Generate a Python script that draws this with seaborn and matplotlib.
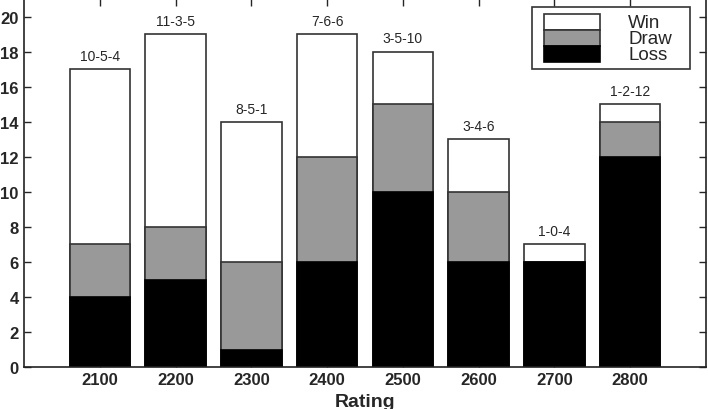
import pandas as pd
import seaborn as sns
import matplotlib.pyplot as plt
from matplotlib.patches import Rectangle

ratings = ['2100', '2200', '2300', '2400', '2500', '2600', '2700', '2800']
wins = [10, 11, 8, 7, 3, 3, 1, 1]
draws = [3, 3, 5, 6, 5, 4, 0, 2]
losses = [4, 5, 1, 6, 10, 6, 6, 12]
labels = ['10-5-4', '11-3-5', '8-5-1', '7-6-6', '3-5-10', '3-4-6', '1-0-4', '1-2-12']

df = pd.DataFrame({'Rating': ratings, 'Win': wins, 'Draw': draws, 'Loss': losses})
df['LossDraw'] = df['Loss'] + df['Draw']
df['Total'] = df['LossDraw'] + df['Win']

sns.set_style('ticks')
plt.rcParams['font.family'] = ['Liberation Sans', 'DejaVu Sans']

fig = plt.figure(figsize=(7.08, 4.10), dpi=100)
ax = fig.add_axes([0.034, 0.102, 0.963, 0.898])

edge = '#333333'
gray = '#999999'
# stacked bars: draw totals first, then cover with lower parts
sns.barplot(x='Rating', y='Total', data=df, color='white', edgecolor=edge,
            linewidth=1.2, width=0.8, saturation=1, ax=ax)
sns.barplot(x='Rating', y='LossDraw', data=df, color=gray, edgecolor=edge,
            linewidth=1.2, width=0.8, saturation=1, ax=ax)
sns.barplot(x='Rating', y='Loss', data=df, color='black', edgecolor='black',
            linewidth=1.2, width=0.8, saturation=1, ax=ax)

# W-D-L labels above bars
for i, (tot, lab) in enumerate(zip(df['Total'], labels)):
    ax.text(i, tot + 0.35, lab, ha='center', va='bottom', fontsize=10)

ax.set_xlim(-1, 8)
ax.set_ylim(0, 21)
ax.set_yticks(range(0, 21, 2))
ax.set_xlabel('Rating', fontsize=14, fontweight='bold', labelpad=4)
ax.set_ylabel('')

ax.tick_params(direction='in', top=True, right=True, length=5, width=1)
for lab in ax.get_xticklabels() + ax.get_yticklabels():
    lab.set_fontweight('bold')
    lab.set_fontsize(12)
ax.tick_params(axis='y', pad=4)

for s in ax.spines.values():
    s.set_linewidth(1.2)
    s.set_color('#222222')

# legend with touching swatches, drawn in axes coordinates
ax.add_patch(Rectangle((0.745, 0.810), 0.232, 0.168, transform=ax.transAxes,
                       facecolor='white', edgecolor=edge, linewidth=1.2, zorder=5))
legend_items = [('Win', 'white', edge), ('Draw', gray, edge), ('Loss', 'black', 'black')]
sw_h = 0.043
for k, (name, fc, ec) in enumerate(legend_items):
    y0 = 0.958 - (k + 1) * sw_h
    ax.add_patch(Rectangle((0.763, y0), 0.081, sw_h, transform=ax.transAxes,
                           facecolor=fc, edgecolor=ec, linewidth=1.2, zorder=6))
    ax.text(0.886, y0 + sw_h / 2, name, transform=ax.transAxes, fontsize=13.5,
            ha='left', va='center', zorder=7)

fig.savefig('out.png', dpi=100)
